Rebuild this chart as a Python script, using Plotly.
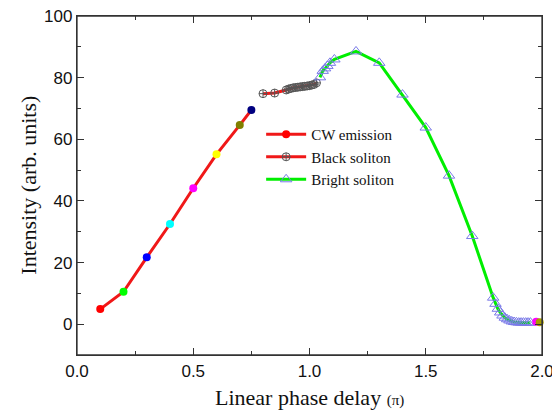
import plotly.graph_objects as go

# CW emission
cw_x = [0.10, 0.20, 0.30, 0.40, 0.50, 0.60, 0.70, 0.75]
cw_y = [4.9, 10.5, 21.7, 32.5, 44.1, 55.1, 64.6, 69.5]
cw_colors = ["#ff0000", "#00ff00", "#0000ff", "#00ffff", "#ff00ff", "#ffff00", "#808000", "#000080"]

cw2_x = [1.975, 1.99]
cw2_y = [0.8, 0.6]
cw2_colors = ["#ff00ff", "#a89c00"]

# Black soliton
bk_x = [0.80, 0.85, 0.90, 0.91, 0.92, 0.93, 0.94, 0.95, 0.96, 0.97, 0.98, 0.99, 1.00, 1.01, 1.02, 1.03]
bk_y = [74.8, 75.0, 76.0, 76.3, 76.5, 76.7, 76.8, 76.9, 77.0, 77.1, 77.2, 77.3, 77.4, 77.6, 77.8, 78.3]

# Bright soliton
br_x = [1.045, 1.057, 1.067, 1.077, 1.088, 1.107, 1.20, 1.30, 1.40, 1.50, 1.60, 1.70, 1.79,
        1.80, 1.81, 1.82, 1.83, 1.84, 1.85, 1.86, 1.87, 1.88, 1.89, 1.90, 1.91, 1.92, 1.93, 1.94, 1.95]
br_y = [80.1, 82.2, 83.0, 83.8, 84.8, 85.9, 88.5, 84.8, 74.5, 63.8, 48.2, 28.6, 8.6,
        6.6, 5.0, 3.8, 2.8, 2.1, 1.6, 1.2, 0.9, 0.7, 0.6, 0.5, 0.5, 0.5, 0.5, 0.5, 0.5]

x_ticks = [0.0, 0.5, 1.0, 1.5, 2.0]
y_ticks = [0, 20, 40, 60, 80, 100]

fig = go.Figure()
fig.add_trace(go.Scatter(x=cw_x, y=cw_y, mode="lines+markers", name="CW emission",
                         line=dict(color="#f01818", width=3),
                         marker=dict(color=cw_colors, size=8, symbol="circle")))
fig.add_trace(go.Scatter(x=bk_x, y=bk_y, mode="lines+markers", name="Black soliton",
                         line=dict(color="#f01818", width=3),
                         marker=dict(color="#555555", size=8, symbol="circle-cross-open",
                                     line=dict(width=1))))
fig.add_trace(go.Scatter(x=br_x, y=br_y, mode="lines+markers", name="Bright soliton",
                         line=dict(color="#00ee00", width=3),
                         marker=dict(color="#7a7ae8", size=10, symbol="triangle-up-open",
                                     line=dict(width=1))))
fig.add_trace(go.Scatter(x=cw2_x, y=cw2_y, mode="lines+markers", showlegend=False,
                         line=dict(color="#f01818", width=3),
                         marker=dict(color=cw2_colors, size=8, symbol="circle"),
                         cliponaxis=False))

axis_common = dict(showline=True, linecolor="#333333", linewidth=1.3, mirror="ticks",
                   ticks="inside", ticklen=7, tickwidth=1.2, tickcolor="#333333",
                   showgrid=False, zeroline=False, automargin=False, ticklabeloverflow="allow",
                   tickfont=dict(family="Liberation Sans, Arial", size=17, color="#111111"))

fig.update_xaxes(range=[0, 2], tickvals=x_ticks, tickformat=".1f",
                 minor=dict(ticks="inside", ticklen=4, dtick=0.25, tickcolor="#333333", showgrid=False),
                 **axis_common)
fig.update_yaxes(range=[-10, 100], tickvals=y_ticks,
                 minor=dict(ticks="inside", ticklen=4, dtick=10, tick0=0, tickcolor="#333333", showgrid=False),
                 **axis_common)

# plot frame
fig.add_shape(type="rect", xref="paper", yref="paper", x0=0, y0=0, x1=1, y1=1,
              line=dict(color="#333333", width=1.3), layer="above")

title_font = dict(family="Liberation Serif, Times New Roman", size=22, color="#111111")
fig.add_annotation(text="Linear phase delay <span style='font-size:15px'>(π)</span>",
                   xref="paper", yref="paper", x=0.5, y=-0.124, xanchor="center", yanchor="middle",
                   showarrow=False, font=title_font)
fig.add_annotation(text="Intensity (arb. units)", textangle=-90,
                   xref="paper", yref="paper", x=-0.105, y=0.5, xanchor="center", yanchor="middle",
                   showarrow=False, font=title_font)

fig.update_layout(width=552, height=412, margin=dict(l=69, r=18, t=8, b=65),
                  paper_bgcolor="white", plot_bgcolor="white",
                  legend=dict(x=0.396, y=0.699, xanchor="left", yanchor="top",
                              bgcolor="rgba(0,0,0,0)", borderwidth=0,
                              font=dict(family="Liberation Serif, Times New Roman", size=15, color="#111111"),
                              itemwidth=40, tracegroupgap=0))

fig.write_html("out.html")
